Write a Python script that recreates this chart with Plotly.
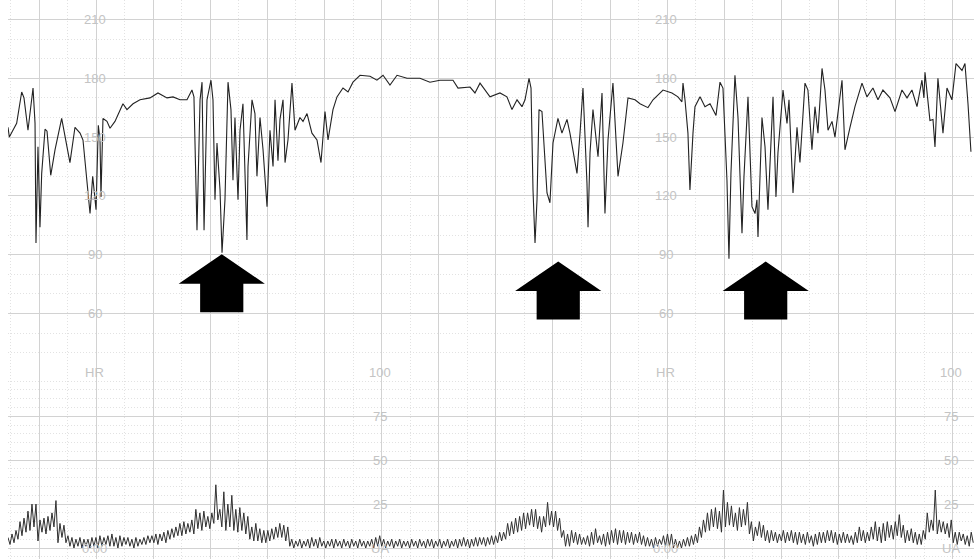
import plotly.graph_objects as go

# ---------------- data (time in seconds, 60 s per major grid line) ----------------
fhr_time = [
    0, 1.4, 9.1, 14.4, 16.8, 21.0, 26.3, 28.4, 29.4, 31.5,
    33.6, 35.4, 38.9, 41.0, 44.9, 49.4, 56.4, 65.1, 70.4, 75.7,
    78.8, 80.9, 86.2, 89.0, 92.5, 94.9, 96.7, 97.7, 99.8, 104.0,
    107.2, 112.4, 120.8, 125.0, 131.4, 138.7, 149.2, 157.6, 167.1, 173.4,
    180.7, 188.1, 193.3, 195.4, 198.6, 201.8, 203.9, 206.0, 209.1, 213.3,
    215.4, 217.5, 219.6, 222.8, 224.9, 228.0, 231.2, 234.3, 236.4, 238.5,
    241.7, 243.8, 246.9, 251.1, 252.2, 256.4, 259.5, 261.6, 264.8, 268.0,
    272.2, 275.3, 278.5, 280.6, 283.7, 285.8, 289.0, 291.1, 294.2, 298.4,
    301.6, 306.8, 310.0, 314.2, 319.4, 324.7, 328.9, 333.1, 336.3, 341.5,
    345.7, 352.0, 357.3, 362.5, 369.9, 380.4, 387.7, 394.1, 401.4, 408.8,
    419.3, 432.9, 443.4, 453.9, 467.6, 472.9, 485.5, 490.7, 496.0, 506.5,
    517.0, 524.3, 529.6, 534.9, 540.1, 543.3, 547.5, 549.6, 551.7, 553.8,
    555.9, 558.0, 561.1, 566.4, 569.5, 572.7, 577.9, 582.1, 587.4, 590.5,
    597.9, 601.1, 604.2, 608.4, 609.5, 611.6, 614.7, 620.0, 624.2, 627.3,
    630.5, 635.7, 641.0, 646.2, 651.5, 658.9, 664.1, 672.5, 677.8, 688.3,
    697.7, 704.0, 708.2, 709.3, 711.4, 714.5, 716.6, 719.8, 721.9, 727.2,
    732.4, 737.7, 744.0, 748.2, 751.3, 755.5, 757.6, 759.7, 763.9, 767.1,
    771.3, 773.4, 777.6, 781.8, 785.0, 787.0, 788.1, 792.3, 795.5, 798.6,
    803.9, 807.0, 809.1, 814.4, 818.6, 820.7, 824.9, 829.1, 832.2, 837.5,
    840.6, 844.8, 848.0, 851.1, 855.4, 858.5, 861.7, 865.9, 869.0, 876.4,
    879.5, 884.8, 890.0, 897.4, 902.6, 908.9, 914.2, 919.4, 926.8, 932.1,
    939.4, 944.7, 949.9, 955.2, 960.4, 962.5, 963.6, 968.8, 972.0, 974.1,
    977.2, 982.5, 986.7, 991.9, 996.2, 1002.5, 1005.6, 1008.8, 1011.9,
]
fhr_bpm = [
    155, 150, 157, 173, 170, 153.5, 175, 157, 96, 145,
    104, 131.5, 154, 153, 130.5, 143.5, 159.5, 137, 155, 152,
    148.5, 138, 111, 130, 113, 156, 148.5, 119.5, 159.5, 158,
    154.5, 158, 167, 164, 167, 169, 170, 172.5, 170, 170.5,
    169, 169, 174, 170.5, 102.5, 169, 178, 102.5, 169, 179,
    169, 118, 147, 123, 91, 118, 178, 164, 128, 160,
    118, 153.5, 167, 97.5, 135, 169, 162, 130, 160, 143.5,
    114.5, 153.5, 135, 169, 138, 159, 169, 137, 148.5, 177.5,
    153.5, 160, 158, 162, 152, 148.5, 137, 163, 148.5, 164,
    170.5, 175, 173, 178, 181.5, 181, 179, 181.5, 176.5, 181.5,
    180, 180, 178, 179, 179, 175, 175.5, 172.5, 177.5, 170.5,
    172.5, 170.5, 164, 169, 165.5, 169, 180, 175, 123, 96,
    118, 164, 163, 121.5, 116.5, 147, 159.5, 152, 159, 152,
    131.5, 152, 175, 126.5, 104, 142, 164, 140, 172.5, 111,
    148.5, 177.5, 130, 147, 170, 169, 167, 165, 169, 174,
    172.5, 170.5, 168, 177.5, 169, 152, 123, 152, 165.5, 170.5,
    165.5, 167, 161, 178, 175, 128, 88, 131.5, 181.5, 160,
    101, 130, 170.5, 114.5, 111, 118, 99, 160, 145, 113,
    170.5, 119.5, 142, 174, 157, 169, 121.5, 155, 137, 177.5,
    174, 143.5, 165.5, 152, 185, 174, 153.5, 158, 150, 179,
    143.5, 155, 165.5, 177.5, 170.5, 175, 169, 174, 170, 163,
    174, 170, 174, 165.5, 179, 170, 183, 158.5, 159, 145,
    180, 152, 175, 169, 187.5, 184, 187.5, 167, 142.5,
]

# UA: rapid oscillation, read as successive peaks and the troughs between them
ua_start = 0.0
ua_step = 4.2
ua_peak = [
    6, 8, 10, 15, 17, 21, 25, 25, 16, 17,
    18, 20, 27, 14, 13, 7, 6, 5, 6, 5,
    5, 6, 6, 7, 6, 7, 8, 6, 7, 6,
    6, 5, 6, 5, 6, 7, 7, 8, 8, 9,
    10, 11, 12, 14, 15, 14, 16, 22, 20, 21,
    18, 20, 36, 22, 32, 25, 30, 22, 23, 20,
    18, 12, 14, 11, 10, 10, 11, 12, 14, 13,
    12, 5, 4, 5, 4, 5, 6, 5, 6, 4,
    4, 5, 5, 4, 5, 4, 5, 4, 5, 4,
    4, 5, 6, 7, 5, 4, 5, 4, 5, 4,
    4, 5, 4, 5, 4, 5, 5, 4, 5, 4,
    5, 4, 5, 5, 6, 5, 5, 6, 6, 6,
    6, 7, 7, 9, 9, 14, 15, 17, 18, 20,
    20, 22, 22, 18, 18, 26, 21, 21, 17, 10,
    8, 10, 9, 8, 6, 7, 9, 11, 7, 8,
    9, 10, 11, 10, 10, 9, 9, 8, 9, 7,
    6, 5, 6, 5, 7, 8, 8, 5, 4, 5,
    6, 7, 8, 12, 16, 20, 22, 23, 21, 33,
    26, 24, 20, 23, 22, 26, 15, 12, 15, 13,
    10, 10, 9, 8, 10, 9, 10, 9, 9, 8,
    9, 7, 8, 9, 9, 10, 10, 9, 8, 9,
    8, 7, 9, 12, 10, 9, 12, 15, 12, 14,
    15, 13, 15, 19, 13, 10, 11, 9, 8, 10,
    20, 16, 33, 16, 15, 14, 16, 9, 9, 8,
    7, 9,
]
ua_trough = [
    2, 3, 5, 7, 9, 10, 12, 4, 9, 8,
    10, 12, 3, 6, 3, 1, 0, 1, 0, 1,
    0, 1, 0, 1, 2, 1, 1, 0, 1, 2,
    1, 0, 1, 2, 2, 3, 3, 2, 4, 3,
    5, 6, 7, 7, 8, 9, 8, 11, 10, 12,
    11, 14, 16, 12, 10, 12, 10, 9, 10, 8,
    5, 4, 4, 3, 3, 4, 5, 6, 6, 4,
    1, 0, 1, 0, 1, 0, 1, 0, 1, 0,
    1, 0, 1, 0, 1, 0, 1, 0, 1, 0,
    1, 0, 1, 1, 0, 1, 0, 1, 0, 1,
    0, 1, 0, 1, 0, 1, 0, 1, 0, 1,
    0, 1, 0, 1, 1, 0, 1, 1, 2, 1,
    2, 2, 3, 4, 5, 7, 8, 9, 10, 11,
    13, 12, 11, 9, 12, 13, 12, 10, 6, 1,
    1, 3, 2, 2, 2, 1, 2, 3, 2, 1,
    2, 3, 2, 3, 2, 3, 2, 3, 2, 1,
    1, 0, 1, 2, 1, 1, 0, 0, 0, 1,
    1, 2, 3, 6, 9, 10, 12, 11, 9, 12,
    13, 12, 10, 12, 13, 8, 4, 7, 6, 4,
    3, 4, 3, 4, 3, 4, 3, 2, 3, 2,
    3, 1, 2, 3, 3, 4, 3, 2, 3, 3,
    3, 2, 3, 4, 3, 4, 5, 4, 3, 4,
    6, 5, 7, 6, 3, 4, 3, 2, 2, 5,
    9, 10, 8, 9, 8, 6, 3, 2, 4, 2,
    1, 3,
]

fhr_tick_labels = [210, 180, 150, 120, 90, 60]
ua_tick_labels = [100, 75, 50, 25]
fhr_label_times = [91.0, 691.0]
ua_label_times = [391.0, 991.0]

arrow_time = [224.6, 578.2, 796.2]
arrow_tip = [90.2, 86.5, 86.5]

if len(fhr_time) != len(fhr_bpm):
    raise SystemExit(f"length mismatch {len(fhr_time)} {len(fhr_bpm)}")
if len(ua_peak) != len(ua_trough):
    raise SystemExit(f"ua length mismatch {len(ua_peak)} {len(ua_trough)}")

ua_time, ua_value = [], []
for i, (pk, tr) in enumerate(zip(ua_peak, ua_trough)):
    ua_time += [ua_start + i * ua_step, ua_start + (i + 0.5) * ua_step]
    ua_value += [pk, tr]

# ---------------- figure ----------------
fig = go.Figure()
fig.add_trace(go.Scatter(x=fhr_time, y=fhr_bpm, mode="lines",
                         line=dict(color="#222222", width=1.1), xaxis="x", yaxis="y",
                         hoverinfo="skip"))
fig.add_trace(go.Scatter(x=ua_time, y=ua_value, mode="lines",
                         line=dict(color="#303030", width=1), xaxis="x", yaxis="y2",
                         hoverinfo="skip"))

lab_font = dict(family="Liberation Sans, Arial, sans-serif", size=13, color="#c4c4c4")
annotations = []
for xt in fhr_label_times:
    for v in fhr_tick_labels:
        annotations.append(dict(x=xt, y=v, xref="x", yref="y", text=str(v),
                                showarrow=False, font=lab_font))
    annotations.append(dict(x=xt, y=30, xref="x", yref="y", text="HR",
                            showarrow=False, font=lab_font))
    annotations.append(dict(x=xt, y=0, xref="x", yref="y2", text="0:00",
                            showarrow=False, font=lab_font))
for xt in ua_label_times:
    for v in ua_tick_labels:
        annotations.append(dict(x=xt, y=v, xref="x", yref="y2", text=str(v),
                                showarrow=False, font=lab_font))
    annotations.append(dict(x=xt, y=0, xref="x", yref="y2", text="UA",
                            showarrow=False, font=lab_font))

# block arrows
head_half = 45.3   # s
shaft_half = 22.7  # s
head_h = 15.0      # bpm
total_h = 29.5     # bpm
shapes = []
for xa, tip in zip(arrow_time, arrow_tip):
    pts = [(xa, tip), (xa + head_half, tip - head_h), (xa + shaft_half, tip - head_h),
           (xa + shaft_half, tip - total_h), (xa - shaft_half, tip - total_h),
           (xa - shaft_half, tip - head_h), (xa - head_half, tip - head_h)]
    path = "M " + " L ".join(f"{px},{py}" for px, py in pts) + " Z"
    shapes.append(dict(type="path", path=path, xref="x", yref="y",
                       fillcolor="black", line=dict(width=0), layer="above"))

major = "#d2d2d2"
minor = "#e2e2e2"
dots = "1px,2px"
split = (559 - 372.4) / 559

fig.update_layout(
    width=974, height=559,
    margin=dict(l=8, r=0, t=0, b=0),
    paper_bgcolor="white", plot_bgcolor="white",
    showlegend=False,
    annotations=annotations,
    shapes=shapes,
    xaxis=dict(range=[0, 1015.1], domain=[0, 1], anchor="y2",
               tick0=32.6, dtick=60, showgrid=True, gridcolor=major, gridwidth=1,
               showticklabels=False, ticks="", zeroline=False, showline=False,
               minor=dict(tick0=32.6, dtick=30, showgrid=True, gridcolor=minor,
                          griddash=dots, gridwidth=1)),
    yaxis=dict(range=[30, 219.9], domain=[split, 1], anchor="x",
               tick0=30, dtick=30, showgrid=True, gridcolor=major, gridwidth=1,
               showticklabels=False, ticks="", zeroline=False, showline=False,
               minor=dict(tick0=30, dtick=10, showgrid=True, gridcolor=minor,
                          griddash=dots, gridwidth=1)),
    yaxis2=dict(range=[-6.26, 100], domain=[0, split], anchor="x",
                tick0=0, dtick=25, showgrid=True, gridcolor=major, gridwidth=1,
                showticklabels=False, ticks="", zeroline=False, showline=False,
                minor=dict(tick0=0, dtick=5, showgrid=True, gridcolor=minor,
                           griddash=dots, gridwidth=1)),
)

fig.write_html("out.html", config={"displayModeBar": False, "staticPlot": True},
               post_script="document.body.style.margin='0px';")
